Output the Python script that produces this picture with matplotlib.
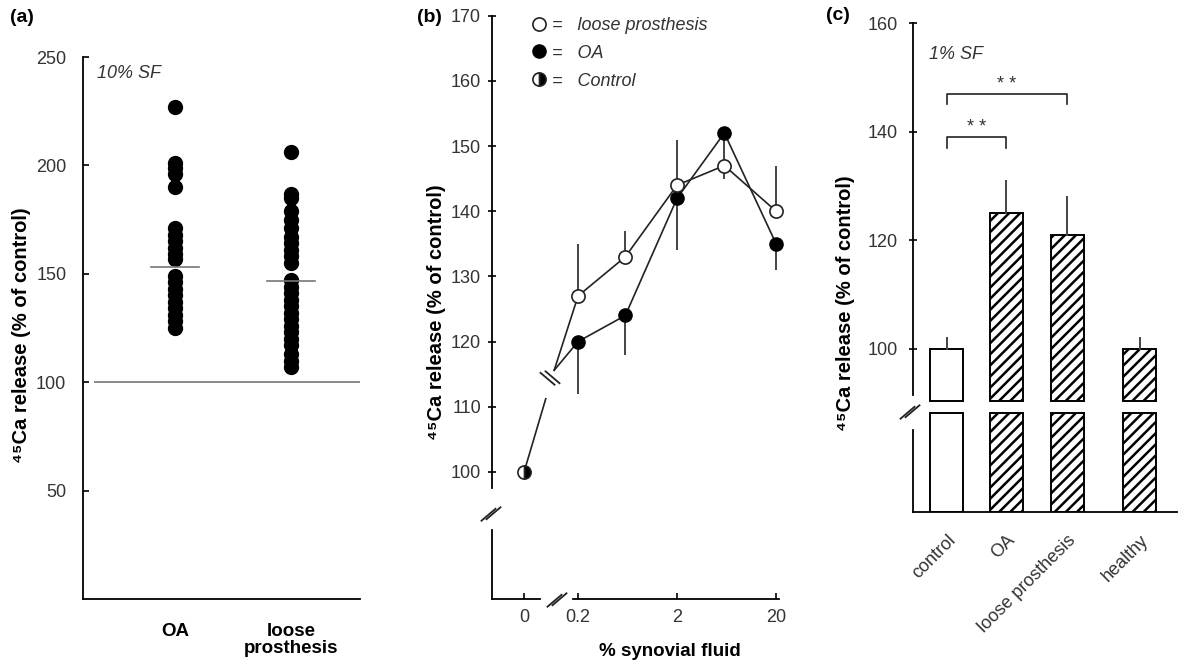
import numpy as np
import matplotlib.pyplot as plt
from matplotlib.lines import Line2D
from matplotlib.transforms import ScaledTranslation

plt.rcParams['font.family'] = ['Liberation Sans', 'DejaVu Sans']
plt.rcParams['hatch.linewidth'] = 1.8

# ---- data -------------------------------------------------------------
# (a) 10% SF, individual patients
a_groups = ['OA', 'loose\nprosthesis']
a_oa = [227, 201, 199, 196, 190, 171, 168, 165, 162, 159, 157,
        149, 146, 143, 140, 137, 134, 131, 128, 125]
a_loose = [206, 187, 185, 179, 175, 171, 167, 164, 161, 158, 155,
           147, 144, 141, 138, 135, 132, 129, 126, 123, 120, 117, 113, 110, 107]
a_means = [153, 146.5]
a_ref = 100

# (b) dose response, % synovial fluid
b_conc = [0.2, 0.6, 2, 6, 20]
b_loose = [127, 133, 144, 147, 140]
b_loose_up = [8, 4, 7, 0, 7]
b_loose_dn = [0, 0, 0, 2, 0]
b_oa = [120, 124, 142, 152, 135]
b_oa_up = [0, 0, 0, 0, 0]
b_oa_dn = [8, 6, 8, 5, 4]
b_control = 100
b_xticks = [0, 0.2, 2, 20]

# (c) 1% SF
c_groups = ['control', 'OA', 'loose prosthesis', 'healthy']
c_vals = [100, 125, 121, 100]
c_err = [2, 6, 7, 2]
c_hatched = [False, True, True, True]
c_brackets = [(0, 1, 139, '* *'), (0, 2, 147, '* *')]

# ---- layout helpers ---------------------------------------------------
W, H = 1200, 671
fig = plt.figure(figsize=(W / 100, H / 100), dpi=100)


def px_rect(l, t, r, b):
    return [l / W, 1 - b / H, (r - l) / W, (b - t) / H]


def break_marks(cx, cy, rising=True, gap=5, half=7):
    # two short parallel strokes, pixel coords (y down)
    s = -1 if rising else 1
    for o in (-gap / 2, gap / 2):
        xs = [cx - half + o, cx + half + o]
        ys = [cy - s * half * 0.85 - o * 0.3, cy + s * half * 0.85 - o * 0.3]
        fig.add_artist(Line2D([x / W for x in xs], [1 - y / H for y in ys],
                              transform=fig.transFigure, color='#222', lw=1.3))


tick_col = '#333333'
tick_fs = 13
lab_fs = 14.5
ylab = '\u2074\u2075Ca release (% of control)'

# ---- panel (a) --------------------------------------------------------
ax = fig.add_axes(px_rect(83, 57, 360, 599))
a_pos = [1.0, 2.25]
for x, vals in zip(a_pos, [a_oa, a_loose]):
    ax.plot([x] * len(vals), vals, 'o', color='black', ms=10, clip_on=False)
for x, m in zip(a_pos, a_means):
    ax.plot([x - 0.26, x + 0.26], [m, m], color='#777777', lw=1.2)
ax.plot([0.13, 3], [a_ref, a_ref], color='#888888', lw=1.4)
ax.set_xlim(0, 3)
ax.set_ylim(0, 250)
ax.set_yticks([50, 100, 150, 200, 250])
ax.set_xticks(a_pos)
ax.set_xticklabels(a_groups, fontsize=13.5, fontweight='bold', linespacing=1.0)
ax.tick_params(axis='x', length=0, pad=17)
ax.tick_params(axis='y', direction='in', length=4, width=1.2, pad=12,
               labelsize=tick_fs, labelcolor=tick_col)
for s in ['top', 'right']:
    ax.spines[s].set_visible(False)
for s in ['left', 'bottom']:
    ax.spines[s].set_linewidth(1.3)
ax.text(0.05, 0.985, '10% SF', transform=ax.transAxes, fontsize=tick_fs,
        style='italic', color=tick_col, va='top')

# ---- panel (b) --------------------------------------------------------
def bx(c):
    return np.log10(c)


ctrl_x = -1.244
ax = fig.add_axes(px_rect(492, 15.7, 779, 599))
xs = bx(np.array(b_conc))
line_kw = dict(color='#222222', lw=1.2)
# control -> broken link -> first points
fork = (-0.94, 115.6)
t = 0.72
ax.plot([ctrl_x, ctrl_x + t * (fork[0] - ctrl_x)],
        [b_control, b_control + t * (fork[1] - b_control)], **line_kw)
ax.plot([fork[0], xs[0]], [fork[1], b_loose[0]], **line_kw)
ax.plot([fork[0], xs[0]], [fork[1], b_oa[0]], **line_kw)
ax.plot(xs, b_oa, **line_kw)
ax.plot(xs, b_loose, **line_kw)
ax.errorbar(xs, b_oa, yerr=[b_oa_dn, b_oa_up], fmt='none', ecolor='#444444',
            elinewidth=1.4, capsize=0)
ax.errorbar(xs, b_loose, yerr=[b_loose_dn, b_loose_up], fmt='none',
            ecolor='#444444', elinewidth=1.4, capsize=0)
ax.plot(xs, b_oa, 'o', ms=9.5, mfc='black', mec='black', ls='none',
        clip_on=False)
ax.plot(xs, b_loose, 'o', ms=9.5, mfc='white', mec='#222222', mew=1.2,
        ls='none', clip_on=False)
ax.plot([ctrl_x], [b_control], 'o', ms=9.5, fillstyle='right', mfc='black',
        mfcalt='white', mec='#222222', mew=1.2, clip_on=False)
ax.set_xlim(-1.568, 1.33)
ax.set_ylim(80.5, 170)
ax.set_yticks(np.arange(100, 171, 10))
ax.set_xticks([ctrl_x] + [bx(c) for c in b_xticks[1:]])
ax.set_xticklabels([str(c) for c in b_xticks])
ax.tick_params(axis='x', direction='in', length=4, width=1.2, pad=7,
               labelsize=tick_fs, labelcolor=tick_col)
ax.tick_params(axis='y', direction='inout', length=6, width=1.2, pad=5,
               labelsize=tick_fs, labelcolor=tick_col)
for s in ['top', 'right']:
    ax.spines[s].set_visible(False)
ax.spines['left'].set_bounds(97.5, 170)
ax.spines['left'].set_linewidth(1.3)
ax.spines['bottom'].set_visible(False)
ax.plot([-1.568, -1.568], [80.5, 91.1], color='black', lw=1.3, clip_on=False)
ax.plot([-1.568, -1.083], [80.5, 80.5], color='black', lw=1.3, clip_on=False)
ax.plot([-0.75, 1.33], [80.5, 80.5], color='black', lw=1.3, clip_on=False)
break_marks(491, 514)
break_marks(557, 600)
break_marks(550, 378, rising=False)
handles = [
    Line2D([], [], marker='o', ls='none', ms=9.5, mfc='white', mec='#222222', mew=1.2),
    Line2D([], [], marker='o', ls='none', ms=9.5, mfc='black', mec='black'),
    Line2D([], [], marker='o', ls='none', ms=9.5, fillstyle='right', mfc='black',
           mfcalt='white', mec='#222222', mew=1.2),
]
ax.legend(handles, ['=   loose prosthesis', '=   OA', '=   Control'],
          loc='upper left', bbox_to_anchor=(0.135, 0.998), frameon=False,
          handlelength=0.9, handletextpad=0.3, borderpad=0, borderaxespad=0,
          labelspacing=0.6, prop={'size': tick_fs, 'style': 'italic'},
          labelcolor=tick_col)
fig.text(670 / W, 1 - 652 / H, '% synovial fluid', fontsize=13.5,
         fontweight='bold', ha='center', va='center')

# ---- panel (c) --------------------------------------------------------
ax = fig.add_axes(px_rect(913, 23, 1177, 512))
c_pos = [1.03, 2.82, 4.67, 6.87]
low_top, up_bot = 88.2, 90.4
for x, v, e, h in zip(c_pos, c_vals, c_err, c_hatched):
    hatch = '///' if h else None
    ax.bar(x, low_top - 70, bottom=70, width=1.0, color='white',
           edgecolor='black', lw=1.4, hatch=hatch)
    ax.bar(x, v - up_bot, bottom=up_bot, width=1.0, color='white',
           edgecolor='black', lw=1.4, hatch=hatch)
    ax.plot([x, x], [v, v + e], color='#444444', lw=1.4)
for i, j, y, lab in c_brackets:
    xi, xj = c_pos[i], c_pos[j]
    ax.plot([xi, xi, xj, xj], [y - 2, y, y, y - 2], color='#222222', lw=1.2)
    ax.text((xi + xj) / 2, y + 0.2, lab, ha='center', va='bottom',
            fontsize=tick_fs, color=tick_col)
ax.set_xlim(0, 8)
ax.set_ylim(70, 160)
ax.set_yticks([100, 120, 140, 160])
ax.set_xticks(c_pos)
ax.set_xticklabels(c_groups, rotation=45, ha='right', va='top',
                   rotation_mode='anchor')
ax.tick_params(axis='x', length=0, pad=14, labelsize=tick_fs, labelcolor=tick_col)
ax.tick_params(axis='y', direction='inout', length=6, width=1.2, pad=8,
               labelsize=tick_fs, labelcolor=tick_col)
off = ScaledTranslation(0, 0, fig.dpi_scale_trans)
for lbl in ax.get_xticklabels():
    lbl.set_transform(lbl.get_transform() + off)
for s in ['top', 'right']:
    ax.spines[s].set_visible(False)
ax.spines['left'].set_bounds(91.6, 160)
ax.spines['left'].set_linewidth(1.3)
ax.spines['bottom'].set_linewidth(1.3)
ax.plot([0, 0], [70, 85.1], color='black', lw=1.3, clip_on=False)
break_marks(910, 412)
ax.text(0.06, 0.935, '1% SF', transform=ax.transAxes, fontsize=tick_fs,
        style='italic', color=tick_col, va='center')

# ---- y labels and panel letters ---------------------------------------
for x, y in [(22, 335), (436, 312), (845, 303)]:
    fig.text(x / W, 1 - y / H, ylab, rotation=90, fontsize=lab_fs,
             fontweight='bold', ha='center', va='center')
for x, y, s in [(22, 17, '(a)'), (429, 17, '(b)'), (838, 15, '(c)')]:
    fig.text(x / W, 1 - y / H, s, fontsize=14, fontweight='bold',
             ha='center', va='center')

fig.savefig('out.png', dpi=100)
